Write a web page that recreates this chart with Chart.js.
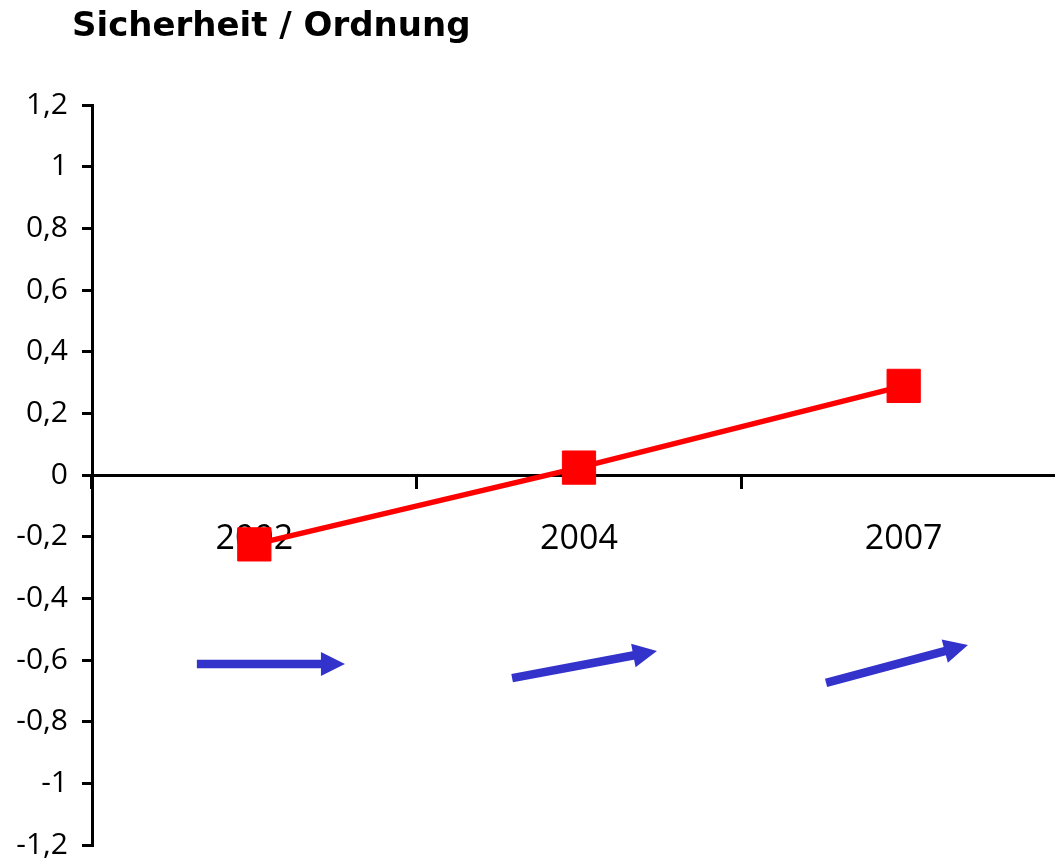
<!DOCTYPE html>
<html>
<head>
<meta charset="utf-8">
<script src="https://cdn.jsdelivr.net/npm/chart.js"></script>
<style>
  html, body { margin: 0; padding: 0; background: #fff; overflow: hidden; }
  #wrap { width: 1055px; height: 863px; overflow: hidden; position: relative; }
  canvas { display: block; }
</style>
</head>
<body>
<div id="wrap"><canvas id="c" width="1066" height="863"></canvas></div>
<script>
const titleText = 'Sicherheit / Ordnung';
const categories = ['2002', '2004', '2007'];
const values = [-0.225, 0.024, 0.289];
const yTickValues = [-1.2, -1, -0.8, -0.6, -0.4, -0.2, 0, 0.2, 0.4, 0.6, 0.8, 1, 1.2];
const yTickLabels = ['-1,2', '-1', '-0,8', '-0,6', '-0,4', '-0,2', '0', '0,2', '0,4', '0,6', '0,8', '1', '1,2'];
// trend arrows (category index units / value units)
const arrowFromX = [-0.177, 0.794, 1.761];
const arrowFromY = [-0.613, -0.659, -0.674];
const arrowToX = [0.279, 1.240, 2.198];
const arrowToY = [-0.613, -0.571, -0.551];

Chart.defaults.font.family = "'Open Sans', sans-serif";
Chart.defaults.color = '#000';

function noPad(s) { s.paddingTop = 0; s.paddingBottom = 0; s.paddingLeft = 0; s.paddingRight = 0; }

const arrowPlugin = {
  id: 'arrows',
  afterLayout(chart) {
    if (chart.titleBlock) { chart.titleBlock.left = 72; }
  },
  afterDatasetsDraw(chart) {
    const xs = chart.scales.xa, ys = chart.scales.y, ctx = chart.ctx;
    ctx.save();
    ctx.fillStyle = '#3333CC';
    ctx.strokeStyle = '#3333CC';
    for (let i = 0; i < arrowFromX.length; i++) {
      const x1 = xs.getPixelForValue(arrowFromX[i]), y1 = ys.getPixelForValue(arrowFromY[i]);
      const x2 = xs.getPixelForValue(arrowToX[i]), y2 = ys.getPixelForValue(arrowToY[i]);
      const len = Math.hypot(x2 - x1, y2 - y1);
      const dx = (x2 - x1) / len, dy = (y2 - y1) / len;
      const headLen = 24, headHalf = 12;
      const bx = x2 - dx * headLen, by = y2 - dy * headLen;
      ctx.lineWidth = 8.5;
      ctx.lineCap = 'butt';
      ctx.beginPath();
      ctx.moveTo(x1, y1);
      ctx.lineTo(bx + dx, by + dy);
      ctx.stroke();
      ctx.beginPath();
      ctx.moveTo(x2, y2);
      ctx.lineTo(bx - dy * headHalf, by + dx * headHalf);
      ctx.lineTo(bx + dy * headHalf, by - dx * headHalf);
      ctx.closePath();
      ctx.fill();
    }
    ctx.restore();
  }
};

new Chart(document.getElementById('c'), {
  type: 'line',
  data: {
    labels: categories,
    datasets: [{
      data: values,
      xAxisID: 'x',
      yAxisID: 'y',
      borderColor: '#FF0000',
      backgroundColor: '#FF0000',
      borderWidth: 5.5,
      pointStyle: 'rect',
      pointRadius: 23.5,
      pointBorderWidth: 1,
      pointBackgroundColor: '#FF0000',
      pointBorderColor: '#FF0000',
      tension: 0,
      clip: false
    }]
  },
  options: {
    responsive: false,
    animation: false,
    devicePixelRatio: 1,
    layout: { autoPadding: false, padding: { left: 0, right: 0, top: 0, bottom: 18 } },
    plugins: {
      legend: { display: false },
      tooltip: { enabled: false },
      title: {
        display: true,
        text: titleText,
        align: 'start',
        color: '#000',
        font: { family: "'DejaVu Sans', sans-serif", size: 34, weight: 'bold' },
        padding: { top: 7.2, bottom: 57 }
      }
    },
    scales: {
      y: {
        type: 'linear',
        position: 'left',
        min: -1.2,
        max: 1.2,
        afterFit(s) { s.width = 92; noPad(s); },
        afterBuildTicks(s) { s.ticks = yTickValues.map(v => ({ value: v })); },
        ticks: {
          padding: 14,
          font: { size: 30 },
          color: '#000',
          autoSkip: false,
          callback: (v, i) => yTickLabels[i]
        },
        grid: { drawOnChartArea: false, tickLength: 10, lineWidth: 3, color: '#000' },
        border: { display: true, width: 3, color: '#000' }
      },
      x: {
        type: 'category',
        position: { y: 0 },
        offset: true,
        afterFit: noPad,
        ticks: { display: false },
        grid: { offset: true, drawOnChartArea: false, tickLength: 12, lineWidth: 3, color: '#000' },
        border: { display: true, width: 3, color: '#000' }
      },
      xl: {
        type: 'category',
        position: { y: 0 },
        offset: true,
        z: 1,
        afterFit: noPad,
        grid: { display: false, drawTicks: false },
        border: { display: false },
        ticks: { padding: 44, font: { size: 34 }, color: '#000', maxRotation: 0, autoSkip: false }
      },
      xa: {
        type: 'linear',
        display: false,
        afterFit: noPad,
        min: -0.5,
        max: 2.5
      }
    }
  },
  plugins: [arrowPlugin]
});
</script>
</body>
</html>
